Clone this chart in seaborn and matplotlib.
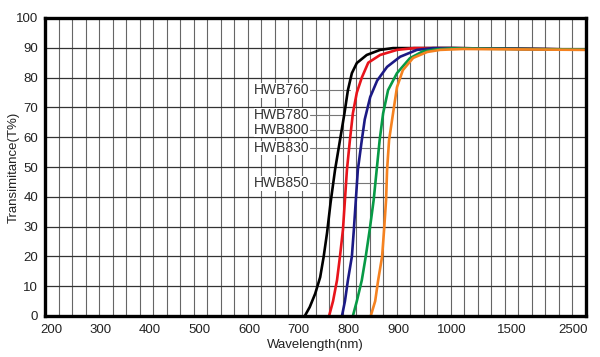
import numpy as np
import pandas as pd
import matplotlib
matplotlib.use("Agg")
import matplotlib.pyplot as plt
import seaborn as sns
from matplotlib.ticker import FixedLocator

# transmission curves (wavelength nm, T %)
filters = ["HWB760", "HWB780", "HWB800", "HWB830", "HWB850"]
colors = ["#000000", "#e8141b", "#1c1a85", "#079a45", "#f58220"]

wl_760 = [712, 722, 733, 743, 750, 757, 764, 773, 783, 792, 799, 807, 817, 837, 864, 890, 1000, 2713]
t_760 = [0, 3, 7.5, 13, 19.8, 28, 38, 49, 59, 68, 75.8, 81.5, 84.9, 87.6, 89.3, 89.9, 89.9, 89.4]

wl_780 = [761, 769, 777, 783, 789, 793, 797, 803, 809, 817, 827, 840, 864, 898, 930, 1000, 2713]
t_780 = [0, 5, 12, 20, 29, 39, 49, 59, 68, 75, 80, 85, 87.6, 89.3, 89.9, 89.9, 89.4]

wl_800 = [787, 793, 799, 807, 811, 815, 819, 827, 833, 844, 858, 878, 904, 935, 965, 1000, 2713]
t_800 = [0, 5, 12, 20, 29, 39, 49, 59, 66, 73.5, 79, 83.6, 87, 89.3, 89.9, 89.9, 89.4]

wl_830 = [809, 817, 827, 835, 843, 851, 857, 863, 870, 880, 898, 922, 946, 972, 1000, 2713]
t_830 = [0, 5, 12, 20, 29, 39, 49, 59, 68, 75.8, 81.5, 86.5, 88.8, 89.5, 89.8, 89.4]

wl_850 = [845, 854, 860, 868, 872, 876, 878, 882, 890, 898, 909, 928, 954, 978, 1092, 2713]
t_850 = [0, 5, 12, 20, 29, 39, 49, 59, 68, 76.8, 82.5, 86.6, 88.6, 89.3, 89.6, 89.3]

# label y level and x where each leader line ends
label_y = [75.8, 67.4, 62.4, 56.4, 44.6]
leader_start = 722
leader_end = [803, 813, 837, 868, 878]

x_ticks = [200, 300, 400, 500, 600, 700, 800, 900, 1000, 1500, 2500]
y_ticks = [0, 10, 20, 30, 40, 50, 60, 70, 80, 90, 100]

# broken wavelength axis: 100 nm steps up to 1000, then compressed
knot_wl = [100, 200, 900, 1000, 1500, 2500, 3500]
knot_pos = [1.4, 51, 398, 452, 512, 573, 634]


def fwd(x):
    return np.interp(x, knot_wl, knot_pos)


def inv(p):
    return np.interp(p, knot_pos, knot_wl)


rows = []
for name, wl, t in zip(filters, [wl_760, wl_780, wl_800, wl_830, wl_850],
                       [t_760, t_780, t_800, t_830, t_850]):
    for w, v in zip(wl, t):
        rows.append({"filter": name, "wl": w, "T": v})
df = pd.DataFrame(rows)

sns.set_style("white")
plt.rcParams["font.family"] = ["Liberation Sans", "DejaVu Sans"]

fig = plt.figure(figsize=(6, 3.57), dpi=100)
ax = fig.add_axes([45 / 600, 41 / 357, 541 / 600, 298 / 357])
ax.set_xscale("function", functions=(fwd, inv))

sns.lineplot(data=df, x="wl", y="T", hue="filter", palette=dict(zip(filters, colors)),
             estimator=None, sort=False, linewidth=1.9, legend=False, ax=ax, zorder=3)

ax.set_xlim(188, 2713)
ax.set_ylim(0, 100)
ax.xaxis.set_major_locator(FixedLocator(x_ticks))
ax.set_xticklabels([str(v) for v in x_ticks])
ax.set_yticks(y_ticks)

# uniform vertical grid: 40 cells across the frame
lo, hi = fwd(188), fwd(2713)
ax.xaxis.set_minor_locator(FixedLocator(inv(np.linspace(lo, hi, 41)[1:-1])))
ax.grid(False)
ax.grid(True, which="minor", axis="x", color="#666666", linewidth=0.8)
ax.grid(True, which="major", axis="y", color="#333333", linewidth=0.9)

ax.tick_params(axis="both", which="both", length=0, labelsize=9.5, colors="#222222")
ax.tick_params(axis="x", pad=6)
ax.tick_params(axis="y", pad=5)

for s in ax.spines.values():
    s.set_color("black")
    s.set_linewidth(2.4)
    s.set_zorder(5)

for name, y, xe in zip(filters, label_y, leader_end):
    ax.plot([leader_start, xe], [y, y], color="#777777", linewidth=0.8, zorder=2.5)
    ax.text(leader_start, y, name, ha="right", va="center", fontsize=10, color="#333333",
            zorder=4, bbox=dict(facecolor="white", edgecolor="none", pad=0.3))

ax.set_xlabel("Wavelength(nm)", fontsize=9.5, labelpad=2, color="#222222")
ax.set_ylabel("Transimitance(T%)", fontsize=9.5, color="#222222")
ax.yaxis.set_label_coords(-0.046, 0.5)

fig.savefig("out.png", dpi=100)
